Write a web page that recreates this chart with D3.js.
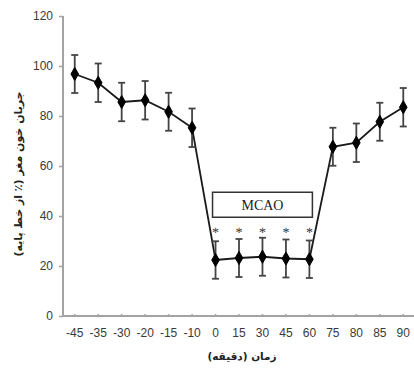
<!DOCTYPE html>
<html><head><meta charset="utf-8">
<script src="https://cdn.jsdelivr.net/npm/d3@7"></script>
<style>body{margin:0;background:#fff}svg{display:block}</style>
</head><body>
<svg id="c" width="414" height="368"></svg>
<script>
const categories = ["-45","-35","-30","-20","-15","-10","0","15","30","45","60","75","80","85","90"];
const means = [96.8, 93.3, 85.6, 86.3, 81.7, 75.3, 22.4, 23.2, 23.7, 23.0, 22.7, 67.7, 69.3, 77.7, 83.5];
const errors = [7.6, 7.7, 7.7, 7.7, 7.6, 7.7, 7.5, 7.6, 7.6, 7.6, 7.5, 7.6, 7.7, 7.6, 7.7];
const significant = ["0","15","30","45","60"];
const yTicks = [0, 20, 40, 60, 80, 100, 120];
const yLabel = "جریان خون مغز (٪ از خط پایه)";
const xLabel = "زمان (دقیقه)";
const boxLabel = "MCAO";

const svg = d3.select("#c");
const x = d3.scaleBand().domain(categories).range([63, 415]).padding(0);
const y = d3.scaleLinear().domain([0, 120]).range([316, 16]);
const axisColor = "#a3a3a3";

// Y axis
const gy = svg.append("g").attr("transform", "translate(63,0)")
  .call(d3.axisLeft(y).tickValues(yTicks).tickSize(4).tickPadding(6));
gy.select(".domain").attr("stroke", axisColor).attr("stroke-width", 2).attr("d", "M0,16V316");
gy.selectAll(".tick line").attr("stroke", axisColor).attr("stroke-width", 1.5);
gy.selectAll(".tick text").attr("font-family", "Liberation Sans, Arial, sans-serif").attr("font-size", 12).attr("fill", "#3a3a3a");

// X axis
const gx = svg.append("g").attr("transform", "translate(0,316)")
  .call(d3.axisBottom(x).tickSize(-2).tickPadding(12));
gx.select(".domain").attr("stroke", axisColor).attr("stroke-width", 2).attr("d", "M63,0H414");
gx.selectAll(".tick line").attr("stroke", axisColor).attr("stroke-width", 1.5);
gx.selectAll(".tick text").attr("font-family", "Liberation Sans, Arial, sans-serif").attr("font-size", 12).attr("fill", "#3a3a3a");

const cx = d => x(d) + x.bandwidth() / 2;

// Line
svg.append("path")
  .datum(categories)
  .attr("fill", "none").attr("stroke", "#1a1a1a").attr("stroke-width", 1.8)
  .attr("d", d3.line().x(d => cx(d)).y((d, i) => y(means[i])));

// Error bars
const eb = svg.append("g").attr("stroke", "#444").attr("stroke-width", 1.8);
categories.forEach((c, i) => {
  const xc = cx(c), top = y(means[i] + errors[i]), bot = y(means[i] - errors[i]);
  eb.append("line").attr("x1", xc).attr("x2", xc).attr("y1", top).attr("y2", bot);
  eb.append("line").attr("x1", xc - 3.5).attr("x2", xc + 3.5).attr("y1", top).attr("y2", top);
  eb.append("line").attr("x1", xc - 3.5).attr("x2", xc + 3.5).attr("y1", bot).attr("y2", bot);
});

// Markers
svg.append("g").selectAll("path").data(categories).join("path")
  .attr("transform", (d, i) => `translate(${cx(d)},${y(means[i])})`)
  .attr("d", d3.symbol().type(d3.symbolDiamond).size(50))
  .attr("fill", "#000").attr("stroke", "#000").attr("stroke-width", 1).attr("stroke-linejoin", "round");

// Asterisks
svg.append("g").selectAll("text").data(significant).join("text")
  .attr("x", d => cx(d)).attr("y", y(31.5))
  .attr("text-anchor", "middle")
  .attr("font-family", "Liberation Serif, Times New Roman, serif").attr("font-size", 14)
  .attr("fill", "#333").style("text-rendering", "geometricPrecision").text("*");

// MCAO box
const bx0 = cx("0") - 3, bx1 = cx("60") + 3;
svg.append("rect").attr("x", bx0).attr("y", y(49.5)).attr("width", bx1 - bx0).attr("height", y(39.5) - y(49.5))
  .attr("fill", "#fff").attr("stroke", "#333").attr("stroke-width", 1.5);
svg.append("text").attr("x", (bx0 + bx1) / 2).attr("y", y(44.5)).attr("dy", "0.35em")
  .attr("text-anchor", "middle")
  .attr("font-family", "Liberation Serif, Times New Roman, serif").attr("font-size", 14)
  .attr("fill", "#222").text(boxLabel);

// Axis titles
svg.append("text").attr("transform", "translate(18,174) rotate(-90)")
  .attr("text-anchor", "middle").attr("dy", "0.35em")
  .attr("font-family", "DejaVu Sans, Noto Sans, sans-serif").attr("font-weight", "bold").attr("font-size", 11)
  .attr("fill", "#222").text(yLabel);
svg.append("text").attr("x", 242).attr("y", 356).attr("dy", "0.35em")
  .attr("text-anchor", "middle")
  .attr("font-family", "DejaVu Sans, Noto Sans, sans-serif").attr("font-weight", "bold").attr("font-size", 10.5)
  .attr("fill", "#222").text(xLabel);
</script>
</body></html>
